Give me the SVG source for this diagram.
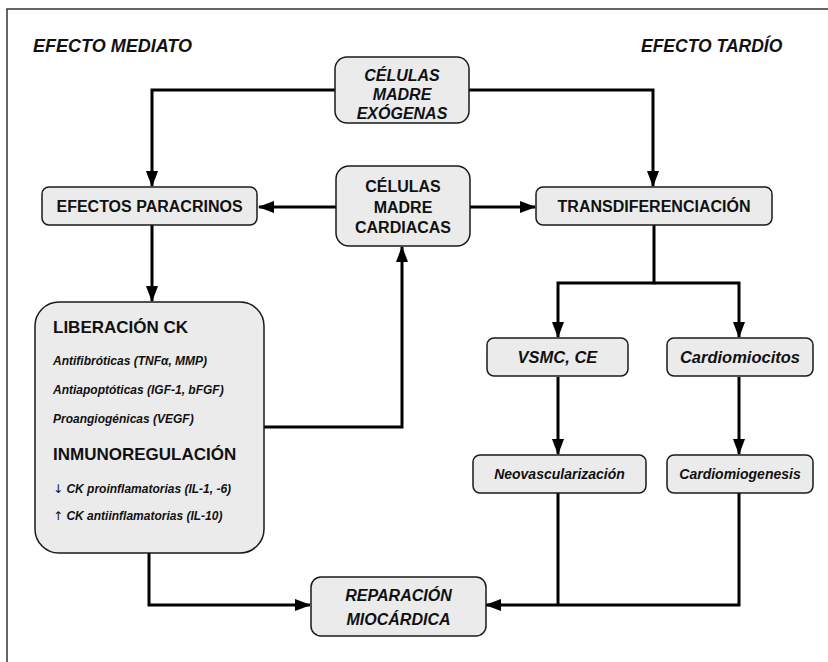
<svg xmlns="http://www.w3.org/2000/svg" width="828" height="662" viewBox="0 0 828 662">
<defs>
<style>
.box{fill:#ebebeb;stroke:#1a1a1a;stroke-width:1.5}
.c{fill:none;stroke:#000;stroke-width:3;stroke-linejoin:miter}
.t{font-family:"Liberation Sans",Arial,sans-serif;font-weight:bold;fill:#111;text-anchor:middle}
.i{font-style:italic}
.l{text-anchor:start}
.ar{font-family:"DejaVu Sans",sans-serif;font-style:normal;font-weight:normal}
</style>
<marker id="ah" markerUnits="userSpaceOnUse" markerWidth="16" markerHeight="12" refX="15" refY="6" orient="auto">
<path d="M0,0 L16,6 L0,12 Z" fill="#000"/>
</marker>
</defs>
<rect width="828" height="662" fill="#fff"/>
<rect x="7" y="9" width="900" height="700" fill="none" stroke="#333" stroke-width="1.5"/>
<text class="t i l" x="33" y="52" font-size="18">EFECTO MEDIATO</text>
<text class="t i l" x="641" y="52" font-size="17.5">EFECTO TARDÍO</text>

<g id="connectors">
<path class="c" d="M336,90 H152 V186" marker-end="url(#ah)"/>
<path class="c" d="M469,90 H653 V186" marker-end="url(#ah)"/>
<path class="c" d="M336,207 H259" marker-end="url(#ah)"/>
<path class="c" d="M470,207 H535" marker-end="url(#ah)"/>
<path class="c" d="M152,225 V301" marker-end="url(#ah)"/>
<path class="c" d="M264,427 H402 V247" marker-end="url(#ah)"/>
<path class="c" d="M654,225 V283 H558 V337" marker-end="url(#ah)"/>
<path class="c" d="M654,283 H739 V337" marker-end="url(#ah)"/>
<path class="c" d="M558,377 V454" marker-end="url(#ah)"/>
<path class="c" d="M739,377 V454" marker-end="url(#ah)"/>
<path class="c" d="M149,553 V605 H310" marker-end="url(#ah)"/>
<path class="c" d="M739,493 V605 H486" marker-end="url(#ah)"/>
<path class="c" d="M558,493 V605"/>
</g>

<g id="exogenas">
<rect class="box" x="335" y="57" width="134" height="66" rx="12"/>
<text class="t i" x="402" y="81" font-size="16">CÉLULAS</text>
<text class="t i" x="402" y="100" font-size="16">MADRE</text>
<text class="t i" x="402" y="119" font-size="16">EXÓGENAS</text>
</g>

<g id="paracrinos">
<rect class="box" x="42" y="187" width="215" height="38" rx="7"/>
<text class="t" x="149.5" y="212" font-size="16">EFECTOS PARACRINOS</text>
</g>

<g id="cardiacas">
<rect class="box" x="336" y="166" width="134" height="80" rx="13"/>
<text class="t" x="403" y="192" font-size="16">CÉLULAS</text>
<text class="t" x="403" y="213" font-size="16">MADRE</text>
<text class="t" x="403" y="233" font-size="16">CARDIACAS</text>
</g>

<g id="transdif">
<rect class="box" x="536" y="187" width="236" height="38" rx="7"/>
<text class="t" x="654" y="212" font-size="16">TRANSDIFERENCIACIÓN</text>
</g>

<g id="liberacion">
<rect class="box" x="35" y="302" width="229" height="251" rx="24"/>
<text class="t l" x="53" y="333" font-size="17">LIBERACIÓN CK</text>
<text class="t i l" x="53" y="365" font-size="12">Antifibróticas (TNFα, MMP)</text>
<text class="t i l" x="53" y="394" font-size="12">Antiapoptóticas (IGF-1, bFGF)</text>
<text class="t i l" x="53" y="423" font-size="12">Proangiogénicas (VEGF)</text>
<text class="t l" x="53" y="460" font-size="17">INMUNOREGULACIÓN</text>
<text class="t i l" x="53" y="493" font-size="12"><tspan class="ar">↓</tspan> CK proinflamatorias (IL-1, -6)</text>
<text class="t i l" x="53" y="520" font-size="12"><tspan class="ar">↑</tspan> CK antiinflamatorias  (IL-10)</text>
</g>

<g id="vsmc">
<rect class="box" x="487" y="338" width="141" height="38" rx="7"/>
<text class="t i" x="557.5" y="363" font-size="16.5">VSMC, CE</text>
</g>

<g id="cardiomiocitos">
<rect class="box" x="667" y="338" width="146" height="38" rx="7"/>
<text class="t i" x="740" y="363" font-size="16.5">Cardiomiocitos</text>
</g>

<g id="neovasc">
<rect class="box" x="473" y="455" width="173" height="38" rx="7"/>
<text class="t i" x="559.5" y="479" font-size="14">Neovascularización</text>
</g>

<g id="cardiomiogenesis">
<rect class="box" x="667" y="455" width="146" height="38" rx="7"/>
<text class="t i" x="740" y="479" font-size="14">Cardiomiogenesis</text>
</g>

<g id="reparacion">
<rect class="box" x="311" y="577" width="175" height="59" rx="10"/>
<text class="t i" x="398.5" y="601" font-size="16">REPARACIÓN</text>
<text class="t i" x="398.5" y="625" font-size="16">MIOCÁRDICA</text>
</g>
</svg>
